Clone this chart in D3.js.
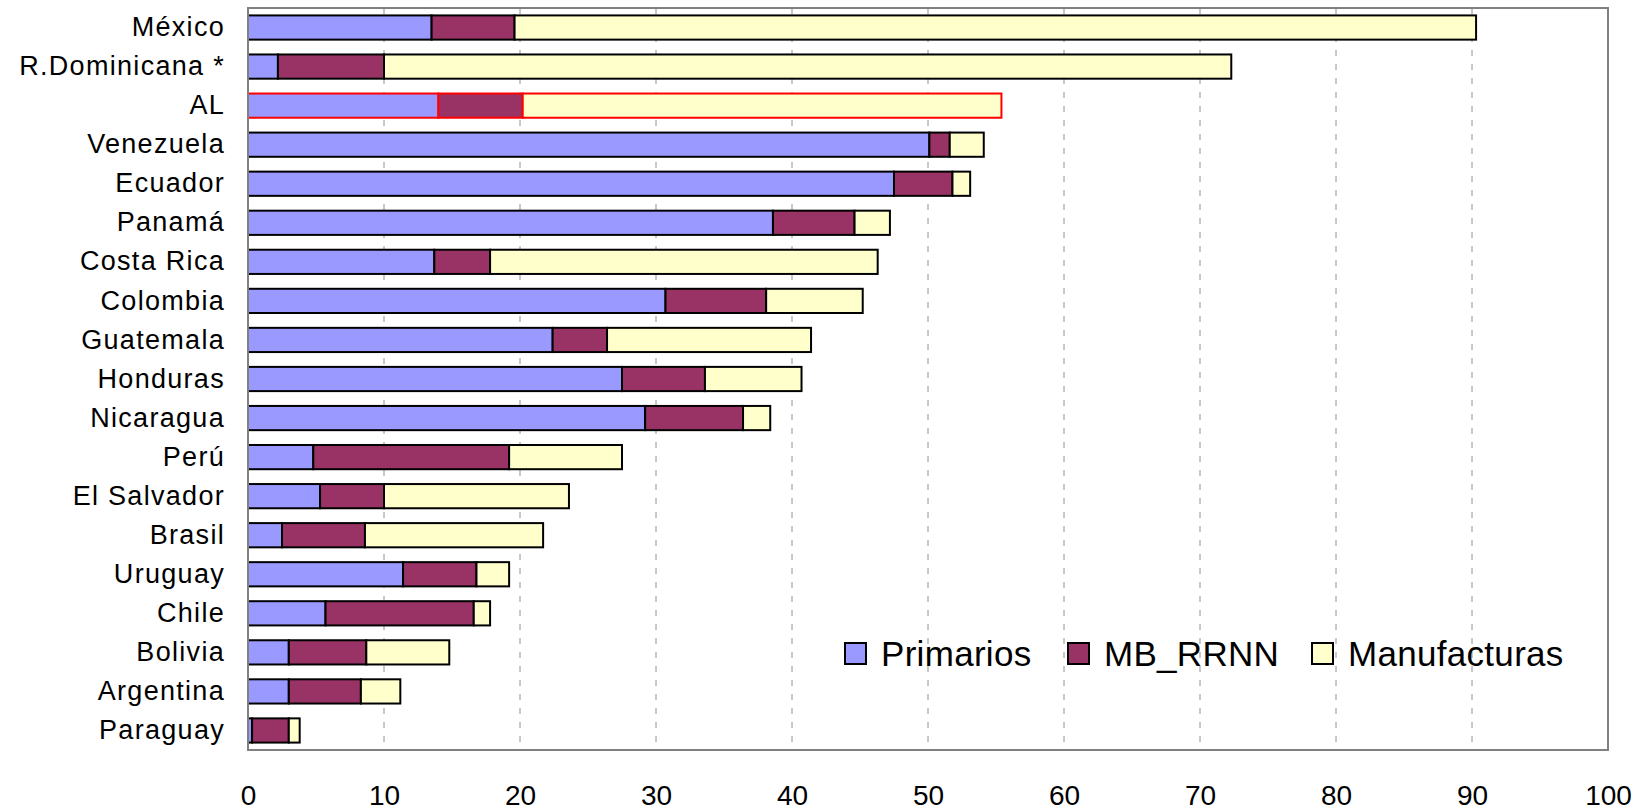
<!DOCTYPE html>
<meta charset="utf-8">
<script src="https://d3js.org/d3.v7.min.js"></script>
<style>
    body { margin: 0; background: #fff; }
    text { font-family: "Liberation Sans", Arial, sans-serif; fill: #000; }
</style>
<div id="vis"></div>
<script>
    // data
    var paises = ["México", "R.Dominicana *", "AL", "Venezuela", "Ecuador", "Panamá", "Costa Rica",
        "Colombia", "Guatemala", "Honduras", "Nicaragua", "Perú", "El Salvador", "Brasil",
        "Uruguay", "Chile", "Bolivia", "Argentina", "Paraguay"];
    var primarios    = [13.5, 2.2, 14.0, 50.1, 47.5, 38.6, 13.7, 30.7, 22.4, 27.5, 29.2, 4.8, 5.3, 2.5, 11.4, 5.7, 3.0, 3.0, 0.3];
    var mbRRNN       = [6.1, 7.8, 6.2, 1.5, 4.3, 6.0, 4.1, 7.4, 4.0, 6.1, 7.2, 14.4, 4.7, 6.1, 5.4, 10.9, 5.7, 5.3, 2.7];
    var manufacturas = [70.7, 62.3, 35.2, 2.5, 1.3, 2.6, 28.5, 7.1, 15.0, 7.1, 2.0, 8.3, 13.6, 13.1, 2.4, 1.2, 6.1, 2.9, 0.8];
    var series = ["Primarios", "MB_RRNN", "Manufacturas"];
    var colores = ["#9999FF", "#993366", "#FFFFCC"];
    var xTicks = [0, 10, 20, 30, 40, 50, 60, 70, 80, 90, 100];

    var W = 1646, H = 811;
    var mgn = { top: 8, rgt: 38, btm: 61, lft: 248 },
        wid = W - mgn.lft - mgn.rgt,
        hgt = H - mgn.top - mgn.btm;

    var svg = d3.select("#vis")
        .append("svg")
        .attr("width", W)
        .attr("height", H)
        .append("g")
        .attr("transform", "translate(" + mgn.lft + "," + mgn.top + ")");

    var tabla = paises.map(function (p, i) {
        return { pais: p, Primarios: primarios[i], MB_RRNN: mbRRNN[i], Manufacturas: manufacturas[i] };
    });
    var stack = d3.stack().keys(series)(tabla);

    var x = d3.scaleLinear().domain([0, 100]).range([0, wid]);
    var y = d3.scaleBand().domain(paises).range([0, hgt]).paddingInner(0.38).paddingOuter(0.19);
    var color = d3.scaleOrdinal().domain(series).range(colores);

    // grid
    svg.append("g")
        .selectAll("line")
        .data(xTicks.slice(1, -1))
        .enter()
        .append("line")
        .attr("x1", function (d) { return x(d); })
        .attr("x2", function (d) { return x(d); })
        .attr("y1", 0)
        .attr("y2", hgt)
        .attr("stroke", "#909090")
        .attr("stroke-width", 1)
        .attr("stroke-dasharray", "6,8");

    // bars
    svg.append("g")
        .selectAll("g")
        .data(stack)
        .enter()
        .append("g")
        .attr("fill", function (d) { return color(d.key); })
        .selectAll("rect")
        .data(function (d) { return d; })
        .enter()
        .append("rect")
        .attr("x", function (d) { return x(d[0]); })
        .attr("y", function (d) { return y(d.data.pais); })
        .attr("width", function (d) { return x(d[1]) - x(d[0]); })
        .attr("height", y.bandwidth())
        .attr("stroke", function (d) { return d.data.pais == "AL" ? "#FF0000" : "#000"; })
        .attr("stroke-width", 2);

    // frame
    svg.append("rect")
        .attr("x", 0).attr("y", 0)
        .attr("width", wid).attr("height", hgt)
        .attr("fill", "none")
        .attr("stroke", "#808080")
        .attr("stroke-width", 2);

    // x axis labels
    var xAx = svg.append("g")
        .attr("transform", "translate(0," + hgt + ")")
        .call(d3.axisBottom(x).tickValues(xTicks).tickSize(0).tickPadding(35));
    xAx.select(".domain").remove();
    xAx.selectAll("text")
        .style("font-size", "28px")
        .style("font-family", "'Liberation Sans', Arial, sans-serif")
        .attr("fill", "#000");

    // y axis labels
    var yAx = svg.append("g")
        .call(d3.axisLeft(y).tickSize(0).tickPadding(23));
    yAx.select(".domain").remove();
    yAx.selectAll("text")
        .style("font-size", "27px")
        .style("letter-spacing", "1.3px")
        .style("font-family", "'Liberation Sans', Arial, sans-serif")
        .attr("fill", "#000");

    // legend
    var legX = [845 - mgn.lft, 1068 - mgn.lft, 1312 - mgn.lft];
    var leg = svg.append("g")
        .selectAll("g")
        .data(series)
        .enter()
        .append("g")
        .attr("transform", function (d, i) { return "translate(" + legX[i] + "," + (654 - mgn.top) + ")"; });
    leg.append("rect")
        .attr("x", 0).attr("y", -11)
        .attr("width", 21).attr("height", 21)
        .attr("fill", function (d) { return color(d); })
        .attr("stroke", "#000")
        .attr("stroke-width", 2);
    leg.append("text")
        .attr("x", 36)
        .attr("y", 12)
        .text(function (d) { return d; })
        .style("font-size", "35px")
        .style("letter-spacing", "0.3px");
</script>
